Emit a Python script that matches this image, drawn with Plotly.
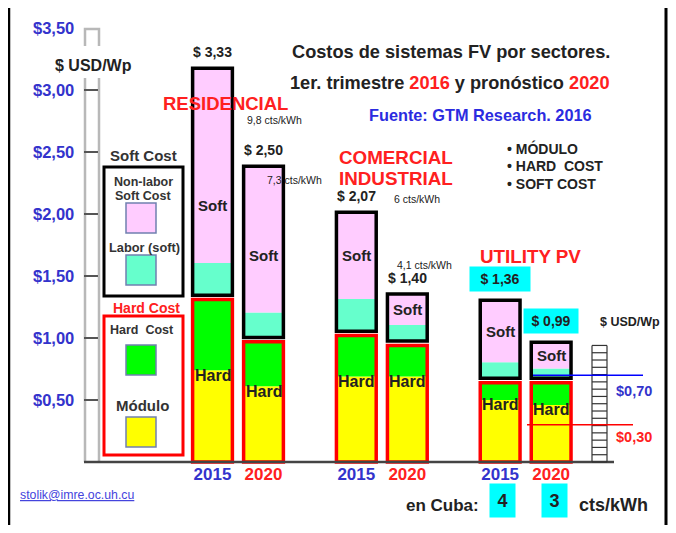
import plotly.graph_objects as go

# page window is 676x533; the page body has an 8px margin, so the figure is drawn
# 8px in from the top-left and sized so that no scrollbar appears
PAGE_W, PAGE_H, OFF = 676, 533, 8
W, H = PAGE_W - OFF, PAGE_H - 2 * OFF

# ---------------- data ----------------
sectors = ["RESIDENCIAL", "COMERCIAL INDUSTRIAL", "UTILITY PV"]
years = ["2015", "2020"]
modulo = [0.74, 0.61, 0.69, 0.69, 0.50, 0.46]          # yellow
hard_other = [0.57, 0.36, 0.33, 0.25, 0.14, 0.18]      # green
labor_soft = [0.26, 0.20, 0.26, 0.13, 0.13, 0.08]      # teal
nonlabor_soft = [1.57, 1.18, 0.70, 0.25, 0.50, 0.21]   # pink
total_labels = [3.33, 2.50, 2.07, 1.40, 1.36, 0.99]
lcoe_cts = ["9,8", "7,3", "6", "4,1"]
cuba_cts = ["4", "3"]
ref_levels = [0.70, 0.30]
y_ticks = [0.5, 1.0, 1.5, 2.0, 2.5, 3.0, 3.5]

# ---------------- styling / layout constants ----------------
FONT = "Liberation Sans, Arial, sans-serif"
YELLOW, GREEN, TEAL, PINK = "#FFFF00", "#00FF00", "#66FFCC", "#FFCCFF"
RED, BLACK, BLUE, DARK = "#FF0000", "#000000", "#3333CC", "#222222"
TRED = "#FF2020"
CYAN = "#00FFFF"
GROUP_STEP = 2.82
BW = 0.78
GAP = 0.035
X_UNIT, X0_PX = 51.0, 212.5    # page px of x=0, px per unit
Y_UNIT, Y0_PX = 124.0, 462.0   # page px of y=0, px per unit
RIGHT_PX, BOTTOM_PX = OFF + W, OFF + H


def fx(px):
    return (px - OFF) / W


def fy(py):
    return 1 - (py - OFF) / H


xs = [g * GROUP_STEP + j for g in range(len(sectors)) for j in range(len(years))]
hard_top = [m + h for m, h in zip(modulo, hard_other)]
soft_base = [t + GAP for t in hard_top]
labor_top = [b + l for b, l in zip(soft_base, labor_soft)]
tops = [l + n for l, n in zip(labor_top, nonlabor_soft)]
soft_h = [l + n for l, n in zip(labor_soft, nonlabor_soft)]

fig = go.Figure()
common = dict(x=xs, width=BW, hoverinfo="skip", showlegend=False)
fig.add_bar(y=modulo, base=[0] * 6, marker=dict(color=YELLOW, line=dict(width=0)), **common)
fig.add_bar(y=hard_other, base=modulo, marker=dict(color=GREEN, line=dict(width=0)), **common)
fig.add_bar(y=labor_soft, base=soft_base, marker=dict(color=TEAL, line=dict(width=0)), **common)
fig.add_bar(y=nonlabor_soft, base=labor_top, marker=dict(color=PINK, line=dict(width=0)), **common)
fig.add_bar(y=hard_top, base=[0] * 6,
            marker=dict(color="rgba(0,0,0,0)", line=dict(color=RED, width=3.5)), **common)
fig.add_bar(y=soft_h, base=soft_base,
            marker=dict(color="rgba(0,0,0,0)", line=dict(color=BLACK, width=3.5)), **common)

ann = []


def note(text, px, py, size, color=DARK, bold=True, xanchor="center", **kw):
    t = f"<b>{text}</b>" if bold else text
    d = dict(text=t, x=fx(px), y=fy(py), xref="paper", yref="paper", showarrow=False,
             xanchor=xanchor, yanchor="middle", font=dict(family=FONT, size=size, color=color))
    d.update(kw)
    ann.append(d)


# value labels above the bars, "Hard"/"Soft" labels inside
for i, x in enumerate(xs):
    txt = "<b>$ " + f"{total_labels[i]:.2f}".replace(".", ",") + "</b>"
    d = dict(text=txt, x=x, y=tops[i], xref="x", yref="y", showarrow=False,
             yanchor="bottom", yshift=6, font=dict(family=FONT, size=14, color=DARK))
    if i >= 4:
        d.update(bgcolor=CYAN, width=56 if i == 4 else 50, height=20, borderpad=2, yshift=8)
    ann.append(d)
    ann.append(dict(text="<b>Hard</b>", x=x, y=modulo[i] - 0.04, xref="x", yref="y",
                    showarrow=False, font=dict(family=FONT, size=16, color=DARK)))
    ann.append(dict(text="<b>Soft</b>", x=x, y=labor_top[i] + min(nonlabor_soft[i] / 2, 0.46),
                    xref="x", yref="y", showarrow=False,
                    font=dict(family=FONT, size=15, color=DARK)))

# y tick labels
for v in y_ticks:
    ann.append(dict(text="<b>$" + f"{v:.2f}".replace(".", ",") + "</b>", x=fx(76), y=v,
                    xref="paper", yref="y", xanchor="right", showarrow=False,
                    font=dict(family=FONT, size=16.5, color=BLUE)))

# titles
note("Costos de sistemas FV por sectores.", 451, 52, 18.2)
note("1er. trimestre <span style='color:#FF2020'>2016</span> y pronóstico "
     "<span style='color:#FF2020'>2020</span>", 450, 83, 18.2)
note("Fuente: GTM Research. 2016", 480, 115, 16.3, color="#2B2BE0")
note("• MÓDULO", 505, 148, 14, xanchor="left")
note("• HARD  COST", 505, 166, 14, xanchor="left")
note("• SOFT COST", 505, 184, 14, xanchor="left")

note(sectors[0], 225, 103, 18.5, color=TRED)
note("COMERCIAL", 337, 157, 18.8, color=TRED, xanchor="left")
note("INDUSTRIAL", 337, 178, 18.8, color=TRED, xanchor="left")
note(sectors[2], 478, 256, 18.8, color=TRED, xanchor="left")

note(lcoe_cts[0] + " cts/kWh", 245, 120, 10.5, bold=False, xanchor="left")
note(lcoe_cts[1] + " cts/kWh", 265, 180, 10.5, bold=False, xanchor="left")
note(lcoe_cts[2] + " cts/kWh", 392, 199, 10.5, bold=False, xanchor="left")
note(lcoe_cts[3] + " cts/kWh", 395, 265, 10.5, bold=False, xanchor="left")

note("$ USD/Wp", 93, 65, 16)
note("$ USD/Wp", 630, 322, 12.5)

note("$" + f"{ref_levels[0]:.2f}".replace(".", ","), 634, 391, 14.5, color=BLUE)
note("$" + f"{ref_levels[1]:.2f}".replace(".", ","), 634, 437, 14.5, color=TRED)

# left legend
note("Soft Cost", 143, 155, 15, color="#333333")
note("Non-labor", 143, 182, 12.5, color="#333333")
note("Soft Cost", 143, 196, 12.5, color="#333333")
note("Labor (soft)", 144, 247, 12.8, color="#333333")
note("Hard Cost", 146, 308, 14, color=TRED)
note("Hard  Cost", 142, 330, 12.5, color="#333333")
note("Módulo", 142, 405, 15, color="#333333")

# footer
note("<u>stolik@imre.oc.uh.cu</u>", 18, 495, 12.3, color="#4444DD", bold=False, xanchor="left")
note("en Cuba:", 442, 505, 17)
note(cuba_cts[0], 502, 500, 18, bgcolor=CYAN, width=21, height=29, borderpad=2)
note(cuba_cts[1], 554, 500, 18, bgcolor=CYAN, width=21, height=29, borderpad=2)
note("cts/kWh", 613, 505, 18)

# ---------------- shapes ----------------
shapes = []


def pline(x0, y0, x1, y1, color, width):
    shapes.append(dict(type="line", xref="paper", yref="paper", x0=fx(x0), y0=fy(y0),
                       x1=fx(x1), y1=fy(y1), line=dict(color=color, width=width)))


def prect(x0, y0, x1, y1, color, width, fill="rgba(0,0,0,0)"):
    shapes.append(dict(type="rect", xref="paper", yref="paper", x0=fx(x0), y0=fy(y0),
                       x1=fx(x1), y1=fy(y1), fillcolor=fill, line=dict(color=color, width=width)))


# outer frame (bottom edge lies below the window)
pline(9, 5, 667, 5, BLACK, 2.5)
pline(9, 5, 9, 540, BLACK, 2.5)
pline(666, 5, 666, 540, BLACK, 3)
# gray axis column
GRAY = "#B8B8B8"
pline(85, 78, 85, 462, GRAY, 2.5)
pline(99, 78, 99, 462, GRAY, 2.5)
shapes.append(dict(type="path", xref="paper", yref="paper",
                   path=f"M {fx(85)} {fy(46)} L {fx(85)} {fy(29)} L {fx(99)} {fy(29)} L {fx(99)} {fy(46)}",
                   line=dict(color=GRAY, width=2.5)))
for v in y_ticks[:-1]:
    shapes.append(dict(type="line", xref="paper", yref="y", x0=fx(84), x1=fx(98), y0=v, y1=v,
                       line=dict(color="#555555", width=2)))
# baseline
shapes.append(dict(type="line", xref="paper", yref="y", x0=fx(84), x1=fx(614), y0=0, y1=0,
                   line=dict(color="#444444", width=2.5)))
# ladder scale
LAD_TOP = 0.94
for xp in (592, 607):
    shapes.append(dict(type="line", xref="paper", yref="y", x0=fx(xp), x1=fx(xp), y0=0, y1=LAD_TOP,
                       line=dict(color="#333333", width=1.2)))
NR = 16
for k in range(NR + 1):
    yv = LAD_TOP * k / NR
    shapes.append(dict(type="line", xref="paper", yref="y", x0=fx(592), x1=fx(607), y0=yv, y1=yv,
                       line=dict(color="#333333", width=1.2)))
# reference lines
shapes.append(dict(type="line", xref="paper", yref="y", x0=fx(533), x1=fx(643),
                   y0=ref_levels[0], y1=ref_levels[0], line=dict(color="#0000FF", width=1.5)))
shapes.append(dict(type="line", xref="paper", yref="y", x0=fx(527), x1=fx(633),
                   y0=ref_levels[1], y1=ref_levels[1], line=dict(color=RED, width=1.5)))
# legend boxes
prect(104, 167, 183, 296, BLACK, 3)
prect(104, 316, 183, 455, RED, 3)
SW = "#7080B0"
prect(126, 203, 156, 233, SW, 1.5, PINK)
prect(126, 255, 156, 285, SW, 1.5, TEAL)
prect(126, 345, 156, 375, SW, 1.5, GREEN)
prect(126, 417, 156, 447, SW, 1.5, YELLOW)

tick_text = [f"<span style='color:{BLUE if j == 0 else TRED}'><b>{years[j]}</b></span>"
             for g in range(len(sectors)) for j in range(len(years))]

fig.update_layout(
    width=W, height=H, margin=dict(l=0, r=0, t=0, b=0),
    paper_bgcolor="white", plot_bgcolor="rgba(0,0,0,0)",
    barmode="overlay", showlegend=False,
    xaxis=dict(range=[(OFF - X0_PX) / X_UNIT, (RIGHT_PX - X0_PX) / X_UNIT], domain=[0, 1],
               tickvals=xs, ticktext=tick_text, ticks="", showgrid=False, zeroline=False,
               showline=False, anchor="free", position=(BOTTOM_PX - Y0_PX) / H,
               tickfont=dict(family=FONT, size=17), fixedrange=True),
    yaxis=dict(range=[(Y0_PX - BOTTOM_PX) / Y_UNIT, (Y0_PX - OFF) / Y_UNIT], domain=[0, 1],
               visible=False, fixedrange=True),
    annotations=ann, shapes=shapes,
    font=dict(family=FONT),
)

fig.write_html("out.html")
